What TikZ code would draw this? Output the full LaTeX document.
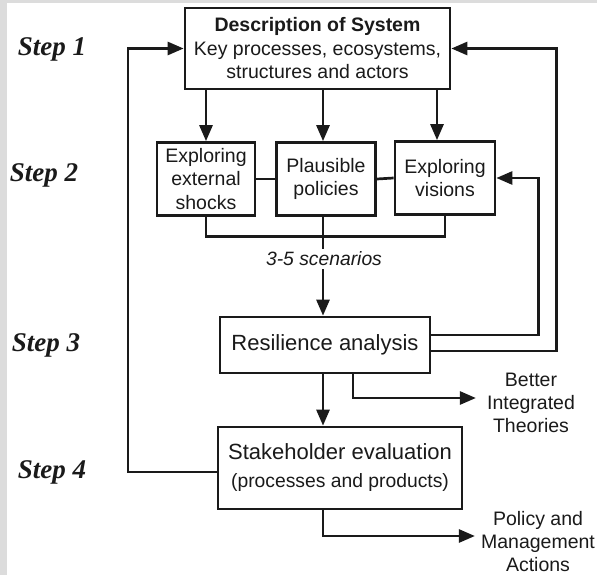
\documentclass[tikz,border=0pt]{standalone}
\usepackage{fontspec}
\setmainfont{Liberation Serif}
\setsansfont{Liberation Sans}
\usepackage{xcolor}
\usetikzlibrary{arrows.meta, positioning, calc}
\definecolor{clrFrame}{HTML}{DCDCDC}
\definecolor{clrInk}{HTML}{1A1A1A}
\tikzset{
  flow box/.style={rectangle, draw=clrInk, line width=2.7pt, inner sep=2pt, align=center, text=clrInk, font=\sffamily\fontsize{19.5}{23.5}\selectfont},
  main box/.style={flow box, font=\sffamily\fontsize{22}{28}\selectfont},
  step label/.style={text=clrInk, font=\fontsize{27}{30}\selectfont\bfseries\itshape},
  out label/.style={align=center, inner sep=2pt, text=clrInk, font=\sffamily\fontsize{19.5}{23}\selectfont},
  link/.style={line width=2.7pt, draw=clrInk},
  arr/.style={link, -{Triangle[length=16pt, width=13pt]}},
}

\begin{document}
\begin{tikzpicture}[x=1pt, y=-1pt]
  % Frame
  \useasboundingbox (0,0) rectangle (597,575);
  \fill[clrFrame] (0,0) rectangle (597,575);
  \fill[white] (7,3) rectangle (597,575);

  % Step labels
  \node[step label] (step1) at (52,49) {Step 1};
  \node[step label] (step2) at (44,175) {Step 2};
  \node[step label] (step3) at (46,345) {Step 3};
  \node[step label] (step4) at (52,472) {Step 4};

  % Boxes
  \node[flow box, minimum width=265pt, minimum height=81pt] (sys) at (317.5,48.5) {\textbf{Description of System}\\Key processes, ecosystems,\\structures and actors};
  \node[flow box, minimum width=98pt, minimum height=73pt] (shocks) at (206,179) {Exploring\\external\\shocks};
  \node[flow box, minimum width=99pt, minimum height=73pt] (policies) at (326,179) {Plausible\\policies};
  \node[flow box, minimum width=100pt, minimum height=73pt] (visions) at (445,178) {Exploring\\visions};
  \node[out label, inner sep=3pt, font=\sffamily\itshape\fontsize{19.3}{23}\selectfont] (scen) at (324,259) {3-5 scenarios};
  \node[main box, minimum width=210pt, minimum height=56pt] (resil) at (325,345) {Resilience analysis};
  \node[main box, minimum width=244pt, minimum height=82pt] (stake) at (340,468) {Stakeholder evaluation\\\fontsize{19.3}{28}\selectfont(processes and products)};

  % Outcomes
  \node[out label] (better) at (531,403) {Better\\Integrated\\Theories};
  \node[out label] (actions) at (538,542) {Policy and\\Management\\Actions};

  \coordinate (spine) at (323,0);
  \coordinate (loop) at (128,0);

  % Step 1 to step 2
  \draw[arr] (shocks.north |- sys.south) -- (shocks.north);
  \draw[arr] (spine |- sys.south) -- (spine |- policies.north);
  \draw[arr] ($(visions.north |- sys.south)+(-8,0)$) -- ($(visions.north)+(-8,0)$);
  \draw[link] (shocks.east) -- (policies.west);
  \draw[link] (policies.east) -- (visions.west);
  \draw[link] (shocks.south) -- ++(0,19.5) -| (visions.south);

  % Scenarios into analysis
  \draw[link] (spine |- policies.south) -- (spine |- scen.north);
  \draw[arr] (spine |- scen.south) -- (spine |- resil.north);
  \draw[arr] (spine |- resil.south) -- (spine |- stake.north);

  % Feedback
  \draw[arr] ($(resil.east)+(0,-10)$) -- ++(107,0) |- (visions.east);
  \draw[arr] ($(resil.east)+(0,6)$) -- ++(125,0) |- (sys.east);
  \draw[arr] ($(stake.west)+(0,4)$) -- ($(stake.west -| loop)+(0,4)$) |- (sys.west);

  % Outputs
  \draw[arr] ($(resil.south)+(28,0)$) |- ($(better.west)+(-9,-5)$);
  \draw[arr] (spine |- stake.south) |- ($(actions.west)+(-4,-6)$);
\end{tikzpicture}
\end{document}
